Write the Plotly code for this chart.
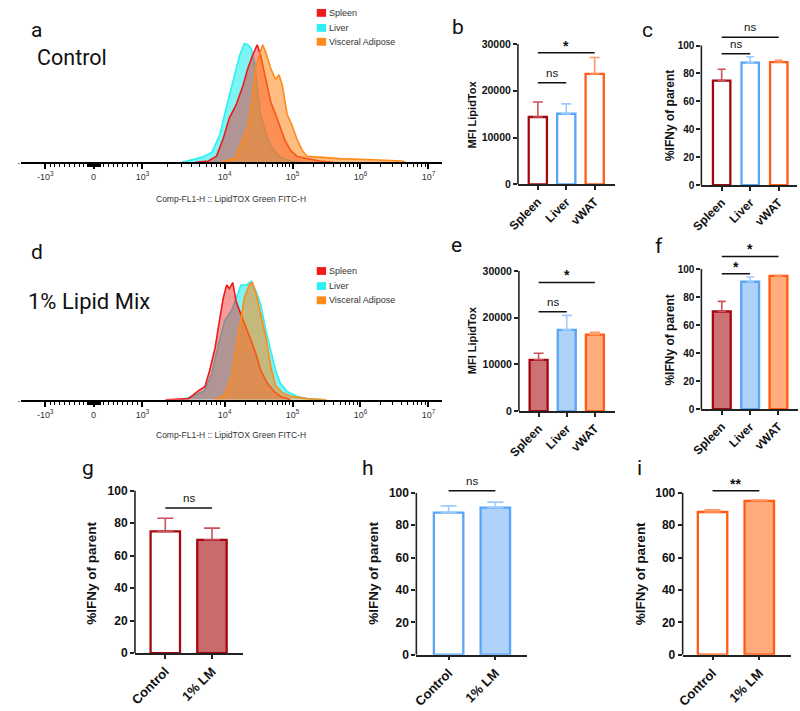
import plotly.graph_objects as go

W, H = 800, 711

# ---------------- data ----------------
# Flow histograms: x in display decades of the biexponential axis, y in % of mode
ctrl_liver_x = [3.37, 3.66, 3.81, 3.93, 4.00, 4.07, 4.15, 4.22, 4.29, 4.34, 4.39, 4.44, 4.48, 4.53, 4.61, 4.70, 4.82, 4.97, 5.11]
ctrl_liver_y = [0, 4, 8, 23, 40, 56, 72, 89, 99, 98, 95, 83, 61, 40, 23, 12, 4, 1, 0]
ctrl_spleen_x = [3.57, 3.76, 3.88, 3.98, 4.07, 4.17, 4.27, 4.34, 4.41, 4.48, 4.53, 4.61, 4.68, 4.75, 4.82, 4.89, 4.97, 5.06, 5.21, 5.40, 5.59]
ctrl_spleen_y = [0, 1, 5, 20, 37, 48, 64, 78, 89, 98, 89, 67, 50, 40, 29, 18, 10, 5, 3, 1, 0]
ctrl_va_x = [3.95, 4.00, 4.15, 4.24, 4.34, 4.41, 4.46, 4.51, 4.56, 4.61, 4.68, 4.75, 4.80, 4.85, 4.92, 4.99, 5.06, 5.14, 5.21, 5.45, 5.69, 6.18, 6.61, 6.66]
ctrl_va_y = [0, 1, 3, 15, 29, 53, 80, 89, 98, 91, 78, 69, 73, 64, 40, 31, 20, 10, 5, 4, 3, 2, 1, 0]

lm_liver_x = [3.37, 3.57, 3.71, 3.81, 3.91, 4.00, 4.10, 4.17, 4.24, 4.32, 4.39, 4.46, 4.53, 4.61, 4.68, 4.75, 4.82, 4.92, 5.06, 5.21, 5.45]
lm_liver_y = [0, 4, 8, 22, 47, 67, 75, 86, 97, 97, 100, 92, 81, 58, 42, 25, 14, 7, 3, 1, 0]
lm_spleen_x = [3.13, 3.47, 3.62, 3.71, 3.78, 3.86, 3.93, 3.98, 4.03, 4.07, 4.12, 4.17, 4.24, 4.32, 4.39, 4.46, 4.53, 4.63, 4.73, 4.82, 4.97]
lm_spleen_y = [0, 1, 8, 11, 25, 44, 69, 86, 97, 94, 99, 83, 72, 61, 50, 39, 25, 14, 7, 3, 0]
lm_va_x = [3.86, 4.00, 4.10, 4.17, 4.24, 4.29, 4.36, 4.41, 4.46, 4.53, 4.61, 4.68, 4.75, 4.85, 4.97, 5.21, 5.50]
lm_va_y = [0, 4, 19, 44, 69, 86, 97, 99, 90, 72, 52, 28, 12, 6, 3, 1, 0]

hist_names = ["Spleen", "Liver", "Visceral Adipose"]
axis_tick_pos = [1.36, 2.07, 2.79, 4, 5, 6, 7]
axis_tick_text = ["-10<sup>3</sup>", "0", "10<sup>3</sup>", "10<sup>4</sup>",
                  "10<sup>5</sup>", "10<sup>6</sup>", "10<sup>7</sup>"]

# Bar panels
tissues = ["Spleen", "Liver", "vWAT"]
conditions = ["Control", "1% LM"]
mfi_control = [14400, 15100, 23600]
mfi_control_err = [3200, 2100, 3500]
ifn_control = [74.9, 87.8, 88.2]
ifn_control_err = [8.1, 4.2, 1.3]
mfi_lipid = [11000, 17400, 16400]
mfi_lipid_err = [1400, 3100, 500]
ifn_lipid = [69.7, 90.9, 95.1]
ifn_lipid_err = [7.2, 3.4, 0.5]
mfi_ticks = [0, 10000, 20000, 30000]
pct_ticks = [0, 20, 40, 60, 80, 100]

# significance: (i, j, y, label)
sig_b = [(0, 1, 21700, "ns"), (0, 2, 28100, "*")]
sig_c = [(0, 1, 94.1, "ns"), (0, 2, 106, "ns")]
sig_e = [(0, 1, 21260, "ns"), (0, 2, 27550, "*")]
sig_f = [(0, 1, 96.7, "*"), (0, 2, 109, "*")]
sig_g = [(0, 1, 89.3, "ns")]
sig_h = [(0, 1, 101.4, "ns")]
sig_i = [(0, 1, 101.4, "**")]

# ---------------- styles ----------------
line_c = ["#a3080f", "#58a6f7", "#ff5b12"]
fill_c = ["#cc7174", "#afd2fb", "#ffab7c"]
err_c = ["#c8535a", "#9dcbff", "#ff9663"]
hist_line = ["#f01a1a", "#2ff0f0", "#ff8a1a"]
hist_fill = ["rgba(240,30,30,0.45)", "rgba(20,235,235,0.55)", "rgba(255,135,25,0.55)"]
BOLD = "Liberation Sans"


def px_x(p):
    return p / W


def px_y(p):
    return 1 - p / H


fig = go.Figure()
layout = dict(width=W, height=H, margin=dict(l=0, r=0, t=0, b=0),
              paper_bgcolor="white", plot_bgcolor="white", showlegend=False,
              barmode="overlay")
shapes, annots = [], []


def ax(idx):
    return "" if idx == 1 else str(idx)


def note(text, x, y, size, family=BOLD, color="#111", weight="normal", angle=0,
         xanchor="center", yanchor="middle"):
    annots.append(dict(text=text, xref="paper", yref="paper", x=px_x(x), y=px_y(y),
                       xanchor=xanchor, yanchor=yanchor, textangle=angle, showarrow=False,
                       font=dict(family=family, size=size, color=color, weight=weight)))


# ---------------- histograms ----------------
def minor_ticks():
    import math
    v = []
    for k in range(1, 10):
        v.append(1.36 + k / 10 * (2.07 - 1.36))
        v.append(2.07 + k / 10 * (2.79 - 2.07))
    for k in range(2, 10):
        v.append(2.79 + math.log10(k) * (4 - 2.79))
    for n in (4, 5, 6):
        for k in range(2, 10):
            v.append(n + math.log10(k))
    z = 1.98
    while z < 2.17:
        v.append(round(z, 3))
        z += 0.004
    return v


def add_hist(idx, series, dom_x, dom_y, title_y):
    a = ax(idx)
    for (xs, ys), name, k in series:
        fig.add_trace(go.Scatter(x=xs, y=ys, mode="lines", fill="tozeroy", name=name,
                                 fillcolor=hist_fill[k], line=dict(color=hist_line[k], width=1.6),
                                 xaxis="x" + a, yaxis="y" + a, showlegend=False))
    layout["xaxis" + a] = dict(domain=[px_x(dom_x[0]), px_x(dom_x[1])], range=[1.0, 7.2],
                               anchor="y" + a, tickmode="array", tickvals=axis_tick_pos,
                               ticktext=axis_tick_text, ticks="outside", ticklen=5, tickwidth=2,
                               tickcolor="black", showline=True, linewidth=2, linecolor="black",
                               showgrid=False, zeroline=False,
                               tickfont=dict(family=BOLD, size=9, color="#333"),
                               minor=dict(tickmode="array", tickvals=minor_ticks(), ticks="outside",
                                          ticklen=3, tickwidth=1, tickcolor="black"))
    layout["yaxis" + a] = dict(domain=[px_y(dom_y[1]), px_y(dom_y[0])], range=[0, 110],
                               anchor="x" + a, showgrid=False, zeroline=False, showline=False,
                               tickmode="array", tickvals=[0], ticktext=["-"], ticks="",
                               tickfont=dict(family=BOLD, size=8, color="#333"))
    note("Comp-FL1-H :: LipidTOX Green FITC-H", (dom_x[0] + dom_x[1]) / 2, title_y, 8.5,
         color="#333")


def add_legend(top_centers):
    for k, (name, cy) in enumerate(zip(hist_names, top_centers)):
        shapes.append(dict(type="rect", xref="paper", yref="paper", x0=px_x(310), x1=px_x(319.5),
                           y0=px_y(cy + 4), y1=px_y(cy - 4), fillcolor=hist_line[k],
                           line=dict(width=0)))
        note(name, 320, cy, 9, color="#333", xanchor="left")


add_hist(1, [((ctrl_liver_x, ctrl_liver_y), "Liver", 1),
             ((ctrl_spleen_x, ctrl_spleen_y), "Spleen", 0),
             ((ctrl_va_x, ctrl_va_y), "Visceral Adipose", 2)],
         (10, 437), (23.8, 158.3), 196)
add_hist(2, [((lm_liver_x, lm_liver_y), "Liver", 1),
             ((lm_spleen_x, lm_spleen_y), "Spleen", 0),
             ((lm_va_x, lm_va_y), "Visceral Adipose", 2)],
         (10, 437), (267.9, 400.7), 437)
add_legend([6, 21.3, 35.5])
add_legend([269.3, 284.7, 299.2])


# ---------------- bar panels ----------------
def add_bars(idx, cats, vals, errs, colors_idx, filled, dom_x, dom_y, xr, yr, ytop,
             yticks, bw, cap, sigs, ytitle, ytitle_pos, fonts, lm_fill=None):
    ytick_fs, xtick_fs, title_fs = fonts
    a = ax(idx)
    for i, (v, e) in enumerate(zip(vals, errs)):
        k = colors_idx[i]
        fc = "white"
        if filled[i]:
            fc = fill_c[k] if lm_fill is None else lm_fill
        fig.add_trace(go.Bar(x=[i], y=[v], width=bw, xaxis="x" + a, yaxis="y" + a,
                             marker=dict(color=fc, line=dict(color=line_c[k], width=2.3)),
                             error_y=dict(type="data", array=[e], arrayminus=[0], symmetric=False,
                                          color=err_c[k], thickness=1.6, width=cap),
                             showlegend=False))
    layout["xaxis" + a] = dict(domain=[px_x(dom_x[0]), px_x(dom_x[1])], range=xr, anchor="y" + a,
                               tickmode="array", tickvals=list(range(len(cats))), ticktext=cats,
                               tickangle=-45, ticks="outside", ticklen=4, tickwidth=1.5,
                               tickcolor="#222", showline=True, linewidth=1.6, linecolor="#222",
                               showgrid=False, zeroline=False,
                               tickfont=dict(family=BOLD, size=xtick_fs, color="#111", weight="bold"))
    layout["yaxis" + a] = dict(domain=[px_y(dom_y[1]), px_y(dom_y[0])], range=yr, anchor="x" + a,
                               tickmode="array", tickvals=yticks, ticktext=[str(t) for t in yticks],
                               ticks="outside", ticklen=4,
                               tickwidth=1.5, tickcolor="#222", showline=False, showgrid=False,
                               zeroline=False,
                               tickfont=dict(family=BOLD, size=ytick_fs, color="#111", weight="bold"))
    shapes.append(dict(type="line", xref="x" + a + " domain", x0=0, x1=0, yref="y" + a,
                       y0=0, y1=ytop, line=dict(color="#222", width=1.6)))
    for (i, j, y, lab) in sigs:
        shapes.append(dict(type="line", xref="x" + a, yref="y" + a, x0=i, x1=j, y0=y, y1=y,
                           line=dict(color="#111", width=1.5)))
        star = "*" in lab
        annots.append(dict(text=lab, xref="x" + a, yref="y" + a, x=(i + j) / 2, y=y,
                           xanchor="center", yanchor="middle", yshift=7 if star else 10,
                           showarrow=False,
                           font=dict(family=BOLD, size=14 if star else 11.5, color="#111",
                                     weight="bold" if star else "normal")))
    note(ytitle, ytitle_pos[0], ytitle_pos[1], title_fs, weight="bold", angle=-90)


add_bars(3, tissues, mfi_control, mfi_control_err, [0, 1, 2], [False] * 3,
         (514, 612), (37.7, 181), [-0.7, 2.7], [0, 30000], 30000, mfi_ticks, 0.64, 5,
         sig_b, "MFI LipidTox", (467, 110), (10.5, 12, 11))
add_bars(4, tissues, ifn_control, ifn_control_err, [0, 1, 2], [False] * 3,
         (700, 797), (25.1, 181.7), [-0.71, 2.64], [0, 110], 100, pct_ticks, 0.61, 4,
         sig_c, "%IFNy of parent", (668.5, 111), (10, 12, 12))
add_bars(5, tissues, mfi_lipid, mfi_lipid_err, [0, 1, 2], [True] * 3,
         (515, 612), (269.3, 412.3), [-0.7, 2.7], [0, 30000], 30000, mfi_ticks, 0.64, 5,
         sig_e, "MFI LipidTox", (467.3, 340), (10.5, 12, 11))
add_bars(6, tissues, ifn_lipid, ifn_lipid_err, [0, 1, 2], [True] * 3,
         (700, 798.3), (250.1, 410.3), [-0.72, 2.7], [0, 112], 100, pct_ticks, 0.63, 4,
         sig_f, "%IFNy of parent", (668.5, 340), (10, 12, 12))
add_bars(7, conditions, [ifn_control[0], ifn_lipid[0]], [ifn_control_err[0], ifn_lipid_err[0]],
         [0, 0], [False, True], (125.7, 235.7), (493.3, 659), [-0.65, 1.675], [0, 100], 100,
         pct_ticks, 0.63, 8, sig_g, "%IFNy of parent", (81.7, 577.5), (12, 13, 13.5),
         lm_fill="#c96a6d")
add_bars(8, conditions, [ifn_control[1], ifn_lipid[1]], [ifn_control_err[1], ifn_lipid_err[1]],
         [1, 1], [False, True], (411, 523.3), (490.7, 660.7), [-0.69, 1.68], [0, 103], 100,
         pct_ticks, 0.63, 8, sig_h, "%IFNy of parent", (366.7, 577.5), (12, 13, 13.5))
add_bars(9, conditions, [ifn_control[2], ifn_lipid[2]], [ifn_control_err[2], ifn_lipid_err[2]],
         [2, 2], [False, True], (681, 790.7), (490.7, 660.7), [-0.64, 1.675], [0, 103], 100,
         pct_ticks, 0.63, 8, sig_i, "%IFNy of parent", (638.3, 578), (12, 13, 13.5))

# ---------------- panel letters & titles ----------------
texts = [("a", 26, 23, 21), ("b", 453, 20, 21), ("c", 645, 23, 21), ("d", 26, 250, 21),
         ("e", 452, 243, 21), ("f", 657, 244, 21), ("g", 78, 470, 21), ("h", 362, 470, 21),
         ("i", 637, 470, 21), ("Control", 62, 52, 21.5), ("1% Lipid Mix", 79, 300, 22)]
for t, x, y, s in texts:
    note(t, x, y, s, family="Roboto")

layout["shapes"] = shapes
layout["annotations"] = annots
fig.update_layout(**layout)
fig.write_html("out.html", post_script="document.body.style.margin='0';",
               config={"displayModeBar": False})
